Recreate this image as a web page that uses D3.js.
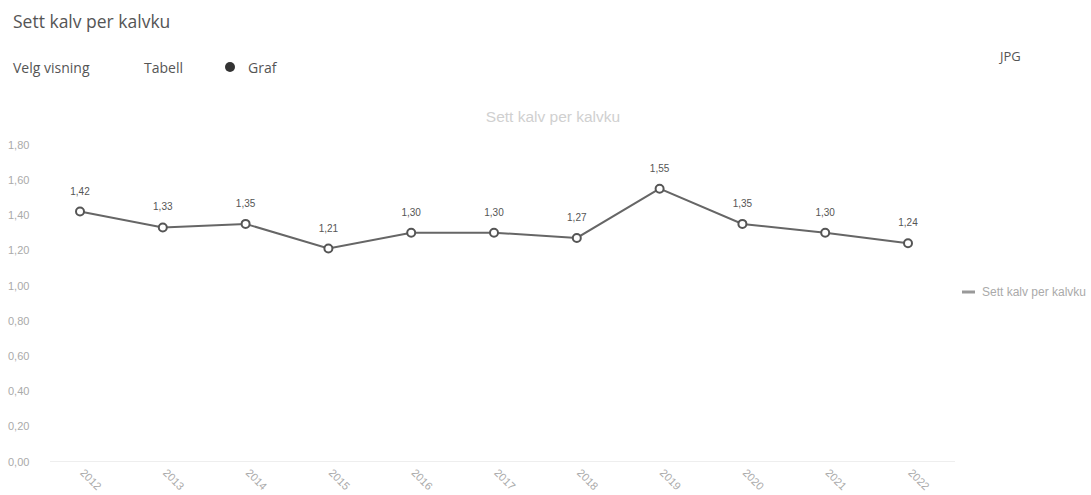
<!DOCTYPE html>
<html><head><meta charset="utf-8">
<script src="https://cdn.jsdelivr.net/npm/d3@7"></script>
<style>
body{margin:0;background:#fff;font-family:"Open Sans",sans-serif;}
</style></head>
<body><svg id="c" width="1091" height="495"></svg>
<script>
const years = ["2012","2013","2014","2015","2016","2017","2018","2019","2020","2021","2022"];
const values = [1.42,1.33,1.35,1.21,1.30,1.30,1.27,1.55,1.35,1.30,1.24];
const yTicks = [0,0.2,0.4,0.6,0.8,1.0,1.2,1.4,1.6,1.8];
const seriesName = "Sett kalv per kalvku";

const svg = d3.select("#c");
const fmt = v => d3.format(".2f")(v).replace(".", ",");

// header
svg.append("text").attr("x",13).attr("y",28).attr("font-size",17.5).attr("fill","#555")
  .attr("font-family","Open Sans").text("Sett kalv per kalvku");
svg.append("text").attr("x",13).attr("y",73).attr("font-size",14).attr("fill","#555")
  .attr("font-family","Open Sans").text("Velg visning");
svg.append("text").attr("x",144).attr("y",73).attr("font-size",14).attr("fill","#555")
  .attr("font-family","Open Sans").text("Tabell");
svg.append("circle").attr("cx",230).attr("cy",67).attr("r",5).attr("fill","#333");
svg.append("text").attr("x",248).attr("y",73).attr("font-size",14).attr("fill","#555")
  .attr("font-family","Open Sans").text("Graf");
svg.append("text").attr("x",1000).attr("y",61).attr("font-size",13).attr("fill","#555")
  .attr("font-family","Open Sans").text("JPG");

// chart title
svg.append("text").attr("x",553).attr("y",122).attr("text-anchor","middle").attr("font-size",15.5)
  .attr("fill","#d0d0d0").attr("font-family","Liberation Sans").text(seriesName);

const x = d3.scalePoint().domain(years).range([80,908]);
const y = d3.scaleLinear().domain([0,1.8]).range([461.5,144.7]);

// y axis
const ya = svg.append("g").attr("transform","translate(8,0)")
  .call(d3.axisLeft(y).tickValues(yTicks).tickFormat(fmt).tickSize(0));
ya.select(".domain").remove();
ya.selectAll("text").attr("text-anchor","start").attr("x",0).attr("fill","#aaa")
  .attr("font-size",11).attr("font-family","Liberation Sans");

// x axis
const xa = svg.append("g").attr("transform","translate(0,461.5)")
  .call(d3.axisBottom(x).tickSize(0));
xa.select(".domain").attr("stroke","#eee").attr("d","M50,0H955");
xa.selectAll("text").attr("fill","#aaa").attr("font-size",11).attr("font-family","Liberation Sans")
  .attr("text-anchor","start").attr("dy",0).attr("y",0)
  .attr("transform","translate(-1,12) rotate(45)");

// line
const line = d3.line().x((d,i)=>x(years[i])).y(d=>y(d));
svg.append("path").datum(values).attr("d",line).attr("fill","none")
  .attr("stroke","#666").attr("stroke-width",2);
svg.selectAll("circle.pt").data(values).enter().append("circle").attr("class","pt")
  .attr("cx",(d,i)=>x(years[i])).attr("cy",d=>y(d)).attr("r",4)
  .attr("fill","#fff").attr("stroke","#555").attr("stroke-width",2);
svg.selectAll("text.lbl").data(values).enter().append("text").attr("class","lbl")
  .attr("x",(d,i)=>x(years[i])).attr("y",d=>y(d)-17).attr("text-anchor","middle")
  .attr("font-size",10).attr("fill","#555").attr("font-family","Liberation Sans").text(fmt);

// legend
svg.append("line").attr("x1",962).attr("x2",975).attr("y1",292).attr("y2",292)
  .attr("stroke","#999").attr("stroke-width",3);
svg.append("text").attr("x",982).attr("y",296).attr("font-size",12).attr("fill","#aaa")
  .attr("font-family","Liberation Sans").text(seriesName);
</script></body></html>
